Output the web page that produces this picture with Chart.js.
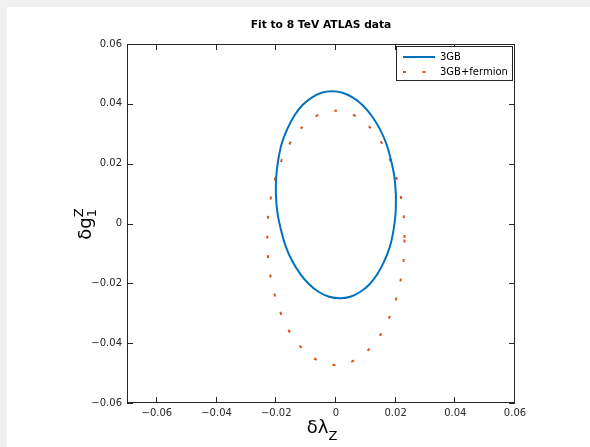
<!DOCTYPE html>
<html>
<head>
<meta charset="utf-8">
<script src="https://cdn.jsdelivr.net/npm/chart.js@4/dist/chart.umd.min.js"></script>
<style>
  body { margin: 0; background: #fff; }
  canvas { display: block; }
</style>
</head>
<body>
<canvas id="myChart" width="590" height="447"></canvas>
<script>
// contour, one point every ~10 degrees round each ellipse
var blueX = [0.0201, 0.0196, 0.0184, 0.0168, 0.0146, 0.0119, 0.0089, 0.0057, 0.0022, -0.0013,
  -0.0048, -0.0081, -0.0112, -0.0139, -0.0162, -0.0181, -0.0193, -0.0200, -0.0201,
  -0.0196, -0.0184, -0.0168, -0.0146, -0.0119, -0.0089, -0.0057, -0.0022, 0.0013,
  0.0048, 0.0081, 0.0112, 0.0139, 0.0162, 0.0181, 0.0193, 0.0200, 0.0201];
var blueY = [0.0096, 0.0156, 0.0214, 0.0269, 0.0318, 0.0361, 0.0396, 0.0421, 0.0437, 0.0442,
  0.0437, 0.0421, 0.0396, 0.0361, 0.0318, 0.0269, 0.0214, 0.0156, 0.0096,
  0.0036, -0.0022, -0.0077, -0.0126, -0.0169, -0.0204, -0.0229, -0.0245, -0.0250,
  -0.0245, -0.0229, -0.0204, -0.0169, -0.0126, -0.0077, -0.0022, 0.0036, 0.0096];
var orangeX = [0.0230, 0.0227, 0.0216, 0.0199, 0.0176, 0.0148, 0.0115, 0.0079, 0.0040, 0.0000,
  -0.0040, -0.0079, -0.0115, -0.0148, -0.0176, -0.0199, -0.0216, -0.0227, -0.0230,
  -0.0227, -0.0216, -0.0199, -0.0176, -0.0148, -0.0115, -0.0079, -0.0040, 0.0000,
  0.0040, 0.0079, 0.0115, 0.0148, 0.0176, 0.0199, 0.0216, 0.0227, 0.0230];
var orangeY = [-0.0048, 0.0026, 0.0097, 0.0165, 0.0225, 0.0278, 0.0320, 0.0351, 0.0371, 0.0377,
  0.0371, 0.0351, 0.0320, 0.0278, 0.0225, 0.0165, 0.0097, 0.0026, -0.0048,
  -0.0122, -0.0193, -0.0261, -0.0321, -0.0374, -0.0416, -0.0447, -0.0467, -0.0473,
  -0.0467, -0.0447, -0.0416, -0.0374, -0.0321, -0.0261, -0.0193, -0.0122, -0.0048];

var seriesNames = ["3GB", "3GB+fermion"];
var xTicks = [-0.06, -0.04, -0.02, 0, 0.02, 0.04, 0.06];
var xTickLabels = ["\u22120.06", "\u22120.04", "\u22120.02", "0", "0.02", "0.04", "0.06"];
var yTicks = [-0.06, -0.04, -0.02, 0, 0.02, 0.04, 0.06];
var yTickLabels = ["\u22120.06", "\u22120.04", "\u22120.02", "0", "0.02", "0.04", "0.06"];

var axisColor = "#262626";

function pts(xs, ys) {
  return xs.map(function (x, i) { return { x: x, y: ys[i] }; });
}

var frame = {
  id: "frame",
  beforeDraw: function (chart) {
    var c = chart.ctx;
    c.save();
    c.fillStyle = "#f0f0f0";
    c.fillRect(0, 0, chart.width, chart.height);
    c.fillStyle = "#fff";
    c.fillRect(7, 7, chart.width - 7, chart.height - 7);
    c.restore();
  },
  afterDraw: function (chart) {
    var c = chart.ctx;
    var a = chart.chartArea;
    var sx = chart.scales.x, sy = chart.scales.y;
    c.save();
    c.strokeStyle = axisColor;
    c.lineWidth = 1;
    c.strokeRect(a.left + 0.5, a.top + 0.5, a.right - a.left - 1, a.bottom - a.top - 1);
    c.beginPath();
    xTicks.forEach(function (v) {
      var px = Math.round(sx.getPixelForValue(v)) - 0.5;
      c.moveTo(px, a.bottom); c.lineTo(px, a.bottom - 6);
      c.moveTo(px, a.top); c.lineTo(px, a.top + 6);
    });
    yTicks.forEach(function (v) {
      var py = Math.round(sy.getPixelForValue(v)) + 0.5;
      c.moveTo(a.left, py); c.lineTo(a.left + 6, py);
      c.moveTo(a.right, py); c.lineTo(a.right - 6, py);
    });
    c.stroke();

    // legend
    var lx = 396, ly = 46, lw = 116, lh = 34;
    c.fillStyle = "#fff";
    c.fillRect(lx, ly, lw, lh);
    c.strokeRect(lx + 0.5, ly + 0.5, lw, lh);
    var ds = chart.data.datasets;
    [57, 72].forEach(function (yy, i) {
      c.beginPath();
      c.strokeStyle = ds[i].borderColor;
      c.lineWidth = ds[i].borderWidth;
      c.setLineDash(ds[i].borderDash || []);
      c.moveTo(403, yy); c.lineTo(435, yy);
      c.stroke();
      c.setLineDash([]);
      c.fillStyle = "#000";
      c.font = "10px 'DejaVu Sans'";
      c.textBaseline = "middle";
      c.textAlign = "left";
      c.fillText(ds[i].label, 440, yy);
    });

    // axis titles with sub/superscripts
    c.fillStyle = "#000";
    c.textBaseline = "alphabetic";
    c.font = "18px 'DejaVu Sans'";
    var w1 = c.measureText("\u03b4\u03bb").width;
    c.font = "13px 'DejaVu Sans'";
    var w2 = c.measureText("Z").width;
    var cx = (a.left + a.right) / 2 + 1;
    var x0 = cx - (w1 + w2) / 2;
    c.font = "18px 'DejaVu Sans'";
    c.fillText("\u03b4\u03bb", x0, 433);
    c.font = "13px 'DejaVu Sans'";
    c.fillText("Z", x0 + w1, 440);

    c.translate(91, 224);
    c.rotate(-Math.PI / 2);
    c.font = "18px 'DejaVu Sans'";
    var g1 = c.measureText("\u03b4g").width;
    c.font = "13px 'DejaVu Sans'";
    var g2 = c.measureText("Z").width;
    var y0 = -(g1 + g2) / 2;
    c.font = "18px 'DejaVu Sans'";
    c.fillText("\u03b4g", y0, 0);
    c.font = "13px 'DejaVu Sans'";
    c.fillText("1", y0 + g1, 5);
    c.fillText("Z", y0 + g1, -8);
    c.restore();
  }
};

new Chart("myChart", {
  type: "scatter",
  data: {
    datasets: [{
      label: seriesNames[0],
      data: pts(blueX, blueY),
      showLine: true,
      borderColor: "#0072BD",
      borderWidth: 2,
      pointRadius: 0,
      tension: 0.3,
      fill: false
    }, {
      label: seriesNames[1],
      data: pts(orangeX, orangeY),
      showLine: true,
      borderColor: "#D95319",
      borderWidth: 2,
      borderDash: [3, 16.5],
      pointRadius: 0,
      tension: 0.3,
      fill: false
    }]
  },
  options: {
    responsive: false,
    animation: false,
    layout: { padding: { left: 0, right: 75, top: 0, bottom: 0 } },
    plugins: {
      legend: { display: false },
      tooltip: { enabled: false },
      title: {
        display: true,
        text: "Fit to 8 TeV ATLAS data",
        fullSize: false,
        color: "#000",
        font: { family: "DejaVu Sans", size: 10.7, weight: "bold" },
        padding: { top: 19, bottom: 12.16 }
      }
    },
    scales: {
      x: {
        type: "linear",
        min: -0.07,
        max: 0.06,
        afterFit: function (s) { s.height = 44; },
        afterBuildTicks: function (s) { s.ticks = xTicks.map(function (v) { return { value: v }; }); },
        ticks: {
          padding: 4,
          color: axisColor,
          font: { family: "DejaVu Sans", size: 10 },
          maxRotation: 0,
          autoSkip: false,
          callback: function (v) { return xTickLabels[xTicks.indexOf(v)]; }
        },
        grid: { display: false, drawTicks: false },
        border: { display: false }
      },
      y: {
        min: -0.06,
        max: 0.06,
        afterFit: function (s) { s.width = 127; },
        afterBuildTicks: function (s) { s.ticks = yTicks.map(function (v) { return { value: v }; }); },
        ticks: {
          padding: 5,
          color: axisColor,
          font: { family: "DejaVu Sans", size: 10 },
          autoSkip: false,
          callback: function (v) { return yTickLabels[yTicks.indexOf(v)]; }
        },
        grid: { display: false, drawTicks: false },
        border: { display: false }
      }
    }
  },
  plugins: [frame]
});
</script>
</body>
</html>
